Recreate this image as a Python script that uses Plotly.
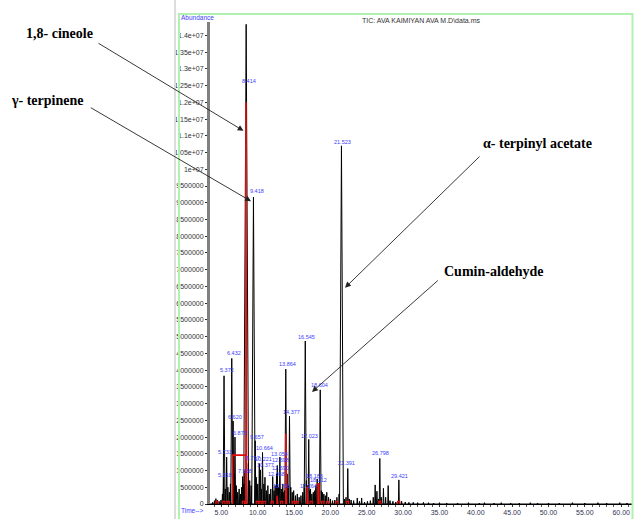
import plotly.graph_objects as go

# ---------------- data ----------------
# chromatogram peaks: retention time (min) and abundance (counts)
peak_t = [3.80, 4.05, 4.25, 4.45, 4.70, 4.95, 5.15, 5.318, 5.372, 5.55, 5.733, 5.90, 6.10, 6.25,
          6.432, 6.620, 6.750, 6.875, 7.05, 7.25, 7.45, 7.65, 7.80, 7.938, 8.10, 8.25, 8.414,
          8.717, 8.90, 9.10, 9.418, 9.657, 9.80, 10.00, 10.221, 10.377, 10.50, 10.664, 10.85,
          11.00, 11.20, 11.40, 11.60, 11.80, 12.068, 12.25, 12.40, 12.590, 12.698, 12.85, 13.054,
          13.25, 13.45, 13.60, 13.706, 13.864, 14.05, 14.20, 14.377, 14.55, 14.75, 14.95, 15.20,
          15.45, 15.70, 15.95, 16.20, 16.40, 16.545, 16.70, 16.85, 17.023, 17.15, 17.264, 17.45,
          17.65, 17.85, 18.00, 18.183, 18.312, 18.45, 18.604, 18.75, 18.90, 19.10, 19.30, 19.50,
          19.75, 20.00, 20.30, 20.60, 20.90, 21.20, 21.523, 21.95, 22.15, 22.391, 22.60, 22.85,
          23.20, 23.70, 24.00, 24.30, 24.70, 25.10, 25.50, 25.90, 26.160, 26.40, 26.60, 26.798,
          27.00, 27.30, 27.60, 27.95, 28.20, 28.60, 29.00, 29.421, 29.80, 30.30, 30.80, 31.40,
          32.00, 32.80, 33.50, 34.20, 35.00, 36.00, 37.50, 39.00, 40.50, 41.20, 42.50, 43.50,
          44.80, 46.00, 47.50, 48.50, 50.00, 51.50, 53.30, 55.00, 56.80, 58.00, 59.80, 60.80]
peak_a = [0.05e6, 0.10e6, 0.16e6, 0.12e6, 0.08e6, 0.12e6, 0.30e6, 0.80e6, 3.83e6, 0.45e6, 1.40e6,
          0.50e6, 0.35e6, 0.60e6, 4.35e6, 2.48e6, 0.90e6, 2.00e6, 0.55e6, 0.35e6, 0.45e6, 0.30e6,
          0.50e6, 0.82e6, 0.60e6, 1.00e6, 14.33e6, 1.21e6, 0.70e6, 0.55e6, 9.17e6, 1.89e6, 0.80e6,
          0.60e6, 1.21e6, 1.02e6, 0.45e6, 1.54e6, 0.60e6, 0.80e6, 0.40e6, 0.55e6, 0.30e6, 0.45e6,
          0.82e6, 0.40e6, 0.55e6, 0.90e6, 1.15e6, 0.50e6, 1.40e6, 0.45e6, 0.60e6, 0.35e6, 0.40e6,
          4.03e6, 0.90e6, 0.55e6, 2.62e6, 0.50e6, 0.35e6, 0.40e6, 0.25e6, 0.30e6, 0.20e6, 0.25e6,
          0.35e6, 0.60e6, 4.87e6, 0.70e6, 0.55e6, 1.93e6, 0.40e6, 0.45e6, 0.30e6, 0.35e6, 0.40e6,
          0.55e6, 0.75e6, 0.60e6, 0.50e6, 3.41e6, 0.40e6, 0.35e6, 0.30e6, 0.25e6, 0.35e6, 0.20e6,
          0.15e6, 0.10e6, 0.12e6, 0.20e6, 0.30e6, 10.70e6, 0.15e6, 0.20e6, 1.06e6, 0.15e6, 0.12e6,
          0.10e6, 0.18e6, 0.08e6, 0.18e6, 0.06e6, 0.08e6, 0.10e6, 0.20e6, 0.57e6, 0.38e6, 0.15e6,
          1.36e6, 0.20e6, 0.47e6, 0.20e6, 0.55e6, 0.10e6, 0.08e6, 0.06e6, 0.72e6, 0.08e6, 0.06e6,
          0.05e6, 0.05e6, 0.04e6, 0.05e6, 0.04e6, 0.03e6, 0.04e6, 0.03e6, 0.03e6, 0.04e6, 0.03e6,
          0.04e6, 0.03e6, 0.04e6, 0.03e6, 0.03e6, 0.04e6, 0.03e6, 0.03e6, 0.03e6, 0.04e6, 0.03e6,
          0.04e6, 0.03e6, 0.04e6, 0.03e6]

# integration marks (red): start time, end time, level
integ_t0 = [6.55, 8.38, 12.66, 13.88, 16.80, 18.30]
integ_t1 = [8.38, 8.46, 12.74, 13.98, 16.90, 18.42]
integ_a = [1.46e6, 12.0e6, 0.25e6, 2.10e6, 0.52e6, 0.60e6]
# small baseline integration marks
small_integ_t = [4.40, 5.35, 5.95, 8.05, 9.95, 10.35, 10.90, 12.00, 13.30, 14.90, 15.40,
                 17.35, 18.95, 19.60, 20.90, 22.35, 26.80, 29.40]
small_integ_a = [0.08e6] * len(small_integ_t)

# peak labels: text, position (time, abundance)
lbl_text = ["5.318", "5.372", "5.733", "6.432", "6.620", "6.875", "7.938", "8.414", "8.717",
            "9.418", "9.657", "10.221", "10.664", "10.377", "12.068", "12.590", "12.698",
            "13.054", "13.706", "13.864", "14.377", "16.545", "17.023", "17.264", "18.183",
            "18.312", "18.604", "21.523", "22.391", "26.798", "29.421"]
lbl_t = [5.50, 5.74, 5.50, 6.78, 6.88, 7.57, 8.25, 8.84, 9.39, 9.86, 9.86, 10.73, 11.00, 11.14,
         12.65, 13.14, 13.07, 13.00, 13.30, 14.07, 14.68, 16.74, 17.19, 16.96, 17.79, 18.34,
         18.57, 21.69, 22.24, 26.92, 29.48]
lbl_a = [0.88e6, 3.99e6, 1.54e6, 4.51e6, 2.59e6, 2.13e6, 0.98e6, 12.63e6, 1.37e6, 9.34e6, 2.01e6,
         1.33e6, 1.67e6, 1.16e6, 0.89e6, 1.07e6, 1.30e6, 1.48e6, 0.53e6, 4.19e6, 2.76e6, 5.00e6,
         2.04e6, 0.55e6, 0.83e6, 0.73e6, 3.55e6, 10.82e6, 1.22e6, 1.52e6, 0.83e6]

x_tickvals = [5, 10, 15, 20, 25, 30, 35, 40, 45, 50, 55, 60]
x_ticktext = ["5.00", "10.00", "15.00", "20.00", "25.00", "30.00", "35.00", "40.00",
              "45.00", "50.00", "55.00", "60.00"]
y_tickvals = [i * 500000 for i in range(29)]
y_ticktext = ["0", "500000", "1000000", "1500000", "2000000", "2500000", "3000000", "3500000",
              "4000000", "4500000", "5000000", "5500000", "6000000", "6500000", "7000000",
              "7500000", "8000000", "8500000", "9000000", "9500000", "1e+07", "1.05e+07",
              "1.1e+07", "1.15e+07", "1.2e+07", "1.25e+07", "1.3e+07", "1.35e+07", "1.4e+07"]

compounds = ["1,8- cineole", "γ- terpinene", "α- terpinyl acetate", "Cumin-aldehyde"]

# ---------------- figure ----------------
W, H = 635, 519
ML, MR, MT, MB = 210, 3, 22, 11
PW, PH = W - ML - MR, H - MT - MB


def px(x):
    return (x - ML) / PW


def py(y):
    return (H - MB - y) / PH


BLUE = "#3c3cff"
SMALL = "Liberation Sans, Arial, sans-serif"
SERIF = "Liberation Serif, Times New Roman, serif"

# build chromatogram line from peaks
cx, cy = [], []
for t, a in zip(peak_t, peak_a):
    w = 0.05 + 0.02 * a / 1e6
    cx += [t - w, t, t + w, None]
    cy += [0, a, 0, None]

rx, ry = [], []
for t0, t1, a in zip(integ_t0, integ_t1, integ_a):
    rx += [t0, t0, t1, t1, None]
    ry += [0, a, a, 0, None]
sx, sy = [], []
for t, a in zip(small_integ_t, small_integ_a):
    sx += [t - 0.15, t - 0.15, t + 0.15, t + 0.15, None]
    sy += [0, a, a, 0, None]

fig = go.Figure()
fig.add_trace(go.Scatter(x=[3.44, 61.49], y=[0, 0], mode="lines",
                         line=dict(color="black", width=1), hoverinfo="skip"))
fig.add_trace(go.Scatter(x=cx, y=cy, mode="lines", line=dict(color="black", width=1),
                         connectgaps=False, hoverinfo="skip"))
fig.add_trace(go.Scatter(x=sx, y=sy, mode="lines", line=dict(color="#e01010", width=1.2),
                         connectgaps=False, hoverinfo="skip"))
fig.add_trace(go.Scatter(x=rx, y=ry, mode="lines", line=dict(color="#e01010", width=1.6),
                         connectgaps=False, hoverinfo="skip"))

annotations = []
for txt, t, a in zip(lbl_text, lbl_t, lbl_a):
    annotations.append(dict(x=t, y=a, xref="x", yref="y", text=txt, showarrow=False,
                            xanchor="center", yanchor="middle",
                            font=dict(family=SMALL, size=5.5, color=BLUE)))

annotations += [
    dict(x=px(179), y=py(17.5), xref="paper", yref="paper", text="Abundance", showarrow=False,
         xanchor="left", yanchor="middle", font=dict(family=SMALL, size=6.5, color=BLUE)),
    dict(x=px(360), y=py(20), xref="paper", yref="paper", text="TIC: AVA KAIMIYAN AVA M.D\\data.ms",
         showarrow=False, xanchor="left", yanchor="middle",
         font=dict(family=SMALL, size=7, color="#333333")),
    dict(x=px(179), y=py(515), xref="paper", yref="paper", text="Time-->", showarrow=False,
         xanchor="left", yanchor="middle", font=dict(family=SMALL, size=6.5, color=BLUE)),
]

# compound names
name_pos = [(59.5, 33.5), (46.7, 101.5), (537.5, 145), (494.3, 274)]
for name, (x, y) in zip(compounds, name_pos):
    annotations.append(dict(x=px(x), y=py(y), xref="paper", yref="paper", text="<b>" + name + "</b>",
                            showarrow=False, xanchor="center", yanchor="middle",
                            font=dict(family=SERIF, size=14, color="black")))

# arrows: head (px), tail (px)
arrows = [((243.5, 131.7), (97, 43.3)), ((251, 202.7), (89.3, 108.3)),
          ((345, 290), (481, 157.3)), ((312, 395), (439.3, 282.3))]
for (hx, hy), (tx, ty) in arrows:
    annotations.append(dict(x=px(hx), y=py(hy), xref="paper", yref="paper", text="",
                            showarrow=True, ax=tx - hx, ay=ty - hy, arrowhead=2, arrowsize=1.3,
                            arrowwidth=0.9, arrowcolor="#222222", standoff=0, startstandoff=0))

shapes = [
    dict(type="line", xref="paper", yref="paper", x0=px(175), x1=px(175), y0=-0.1, y1=1.1,
         line=dict(color="#dcdcdc", width=2)),
    dict(type="rect", xref="paper", yref="paper", x0=px(179), x1=px(632.5), y0=-0.1, y1=py(14),
         line=dict(color="#b0f0b0", width=2)),
]

fig.update_layout(
    width=W, height=H, margin=dict(l=ML, r=MR, t=MT, b=MB),
    paper_bgcolor="white", plot_bgcolor="white", showlegend=False,
    annotations=annotations, shapes=shapes,
    xaxis=dict(range=[3.44, 61.49], tickmode="array", tickvals=x_tickvals, ticktext=x_ticktext,
               showline=True, linecolor="black", linewidth=1, ticks="outside", ticklen=2,
               tickcolor="#333333", tickfont=dict(family=SMALL, size=7, color="#333355"),
               showgrid=False, zeroline=False,
               minor=dict(tickmode="array", tickvals=list(range(4, 62)), ticks="outside",
                          ticklen=2, tickcolor="#555555")),
    yaxis=dict(range=[0, 1.44e7], tickmode="array", tickvals=y_tickvals, ticktext=y_ticktext,
               showline=True, linecolor="#808080", linewidth=3, ticks="outside", ticklen=2,
               tickcolor="#333333", tickfont=dict(family=SMALL, size=7, color="#333333"),
               showgrid=False, zeroline=False),
)

fig.write_html("out.html", config={"displayModeBar": False},
               post_script="document.body.style.margin='0px';")
